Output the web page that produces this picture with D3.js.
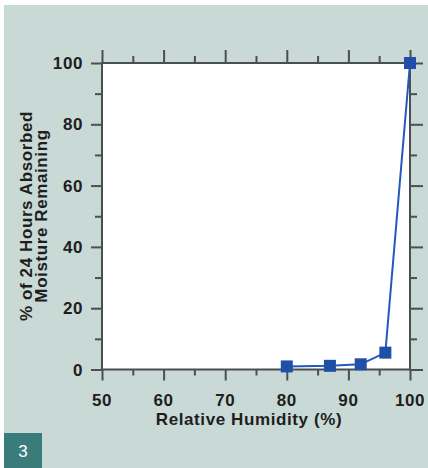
<!DOCTYPE html>
<html><head><meta charset="utf-8">
<script src="https://cdn.jsdelivr.net/npm/d3@7"></script>
<style>
html,body{margin:0;padding:0;background:#fff;}
svg{display:block;}
text{font-family:"Liberation Sans",Arial,Helvetica,sans-serif;}
</style></head>
<body>
<svg id="c" width="428" height="468"></svg>
<script>
const humidity = [80, 87, 92, 96, 100];
const moisture = [1, 1.2, 1.7, 5.5, 100];
const xTicks = [50, 60, 70, 80, 90, 100];
const xMinor = [55, 65, 75, 85, 95];
const yTicks = [0, 20, 40, 60, 80, 100];
const yMinor = [10, 30, 50, 70, 90];
const xTitle = "Relative Humidity (%)";
const yTitle = ["% of 24 Hours Absorbed", "Moisture Remaining"];
const figLabel = "3";

const svg = d3.select("#c");
const L = 102, R = 410, T = 63, B = 369.5;
const x = d3.scaleLinear().domain([50, 100]).range([L, R]);
const y = d3.scaleLinear().domain([0, 100]).range([B, T]);

svg.append("rect").attr("x", 4).attr("y", 5).attr("width", 424).attr("height", 463).attr("fill", "#c8d9d6");
svg.append("rect").attr("x", L).attr("y", T).attr("width", R - L).attr("height", B - T).attr("fill", "#ffffff");

const axisCol = "#4a4f50";
function styleAxis(g) {
  g.select(".domain").remove();
  g.selectAll(".tick line").attr("stroke", axisCol).attr("stroke-width", 2);
  g.selectAll("text").remove();
}
// minor ticks
svg.append("g").attr("transform", `translate(0,${B})`).call(d3.axisBottom(x).tickValues(xMinor).tickSizeInner(6).tickSizeOuter(0)).call(styleAxis);
svg.append("g").attr("transform", `translate(0,${T})`).call(d3.axisTop(x).tickValues(xMinor).tickSizeInner(7).tickSizeOuter(0)).call(styleAxis);
svg.append("g").attr("transform", `translate(${L},0)`).call(d3.axisLeft(y).tickValues(yMinor).tickSizeInner(7).tickSizeOuter(0)).call(styleAxis);
svg.append("g").attr("transform", `translate(${R},0)`).call(d3.axisRight(y).tickValues(yMinor).tickSizeInner(7).tickSizeOuter(0)).call(styleAxis);
// major ticks
svg.append("g").attr("transform", `translate(0,${B})`).call(d3.axisBottom(x).tickValues(xTicks).tickSizeInner(11).tickSizeOuter(0)).call(styleAxis);
svg.append("g").attr("transform", `translate(0,${T})`).call(d3.axisTop(x).tickValues(xTicks).tickSizeInner(13).tickSizeOuter(0)).call(styleAxis);
svg.append("g").attr("transform", `translate(${L},0)`).call(d3.axisLeft(y).tickValues(yTicks).tickSizeInner(11).tickSizeOuter(0)).call(styleAxis);
svg.append("g").attr("transform", `translate(${R},0)`).call(d3.axisRight(y).tickValues(yTicks).tickSizeInner(13).tickSizeOuter(0)).call(styleAxis);

// frame lines
const frame = svg.append("g").attr("stroke", axisCol).attr("stroke-width", 2).attr("fill", "none");
frame.append("line").attr("x1", L - 1).attr("x2", R + 1).attr("y1", B).attr("y2", B);
frame.append("line").attr("x1", L - 1).attr("x2", R + 1).attr("y1", T).attr("y2", T);
frame.append("line").attr("x1", L).attr("x2", L).attr("y1", T).attr("y2", B);
frame.append("line").attr("x1", R).attr("x2", R).attr("y1", T).attr("y2", B);

// tick labels
const lab = {"font-size": "17px", "font-weight": "bold", "fill": "#1e1e1e", "letter-spacing": "0.6px"};
function applyStyle(sel, st) { for (const k in st) sel.attr(k, st[k]); return sel; }
applyStyle(svg.append("g").selectAll("text").data(xTicks).join("text")
  .attr("x", d => x(d)).attr("y", 406).attr("text-anchor", "middle").text(d => d), lab);
applyStyle(svg.append("g").selectAll("text").data(yTicks).join("text")
  .attr("x", 83).attr("y", d => y(d) + 6).attr("text-anchor", "end").text(d => d), lab);

// titles
applyStyle(svg.append("text").attr("x", 249).attr("y", 425).attr("text-anchor", "middle").text(xTitle), lab);
yTitle.forEach((t, i) => {
  applyStyle(svg.append("text").attr("transform", `translate(${32 + i * 15},216) rotate(-90)`)
    .attr("text-anchor", "middle").text(t), lab);
});

// line and markers
const lineCol = "#2358bd";
svg.append("path").datum(humidity.map((h, i) => [h, moisture[i]]))
  .attr("fill", "none").attr("stroke", lineCol).attr("stroke-width", 2)
  .attr("d", d3.line().x(d => x(d[0])).y(d => y(d[1])));
const ms = 12;
svg.append("g").selectAll("rect").data(humidity.map((h, i) => [h, moisture[i]])).join("rect")
  .attr("x", d => x(d[0]) - ms / 2).attr("y", d => y(d[1]) - ms / 2)
  .attr("width", ms).attr("height", ms).attr("fill", "#1f4fa6");

// figure label
svg.append("rect").attr("x", 4).attr("y", 433).attr("width", 38).attr("height", 35).attr("fill", "#3a7b7b");
svg.append("text").attr("x", 23).attr("y", 457).attr("text-anchor", "middle")
  .attr("font-size", "17px").attr("fill", "#ffffff").text(figLabel);
</script>
</body></html>
